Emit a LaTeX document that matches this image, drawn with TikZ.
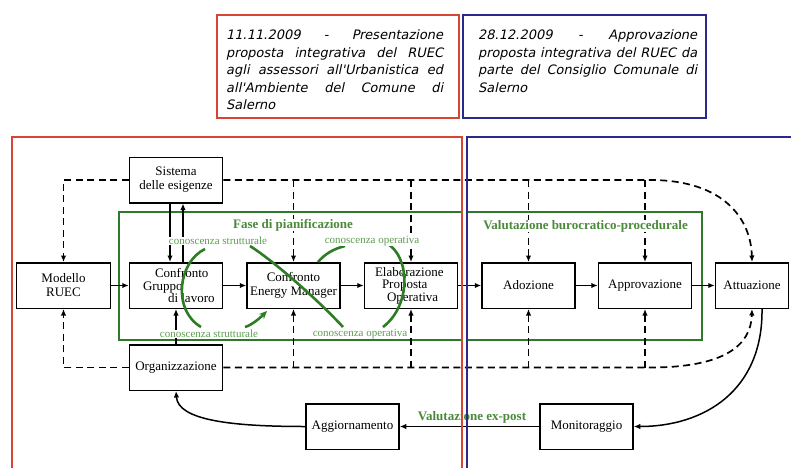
\documentclass[tikz,border=0pt]{standalone}
\usepackage{fontspec}
\setmainfont{Liberation Serif}
\newfontfamily\topfont{DejaVu Sans}[FakeSlant=0.21]
\usetikzlibrary{arrows.meta,decorations.markings}
\definecolor{fred}{HTML}{D74632}
\definecolor{fblue}{HTML}{2A2A8A}
\definecolor{fgreen}{HTML}{2F7A2A}
\definecolor{tgreen}{HTML}{4A8A3A}
\definecolor{kgreen}{HTML}{5E9E50}
\definecolor{cgreen}{HTML}{2E7D25}
\begin{document}
\begin{tikzpicture}[x=1pt,y=-1pt,
  box/.style={draw=black,line width=1.5pt,fill=white,minimum width=93pt,minimum height=45.5pt,inner sep=1pt,font=\fontsize{13}{14}\selectfont,align=center},
  tbox/.style={box,font=\fontsize{13}{12.5}\selectfont,align=left},
  conn/.style={draw=black,line width=1.5pt,-{Latex[length=6.5pt,width=5.5pt]}},
  dconn/.style={draw=black,line width=1.7pt,dash pattern=on 7pt off 4.5pt,-{Latex[length=6.5pt,width=5.5pt]}},
  gframe/.style={draw=fgreen,line width=2pt},
  gcurve/.style={draw=cgreen,line width=2.6pt},
  glabel/.style={text=tgreen,font=\bfseries\fontsize{13}{14}\selectfont,fill=white,inner sep=0.5pt},
  klabel/.style={text=kgreen,font=\fontsize{11}{12}\selectfont,fill=white,inner sep=0.5pt},
  toptext/.style={anchor=north west,inner sep=0pt,align=left,font=\topfont\fontsize{13}{17.5}\selectfont},
  midarrow/.style={postaction={decorate,decoration={markings,mark=at position 0.45 with {\arrow{Stealth[length=8pt,width=7pt]}}}}}
]
\useasboundingbox (0,0) rectangle (791,468);
\fill[white] (0,0) rectangle (791,468);

% green phase frames
\draw[gframe] (119,212) rectangle (462,340);
\draw[gframe] (467,212) rectangle (702,340);

% nodes
\node[box] (sis) at (176,180) {Sistema\\delle esigenze};
\node[box,minimum width=94pt] (mod) at (63.5,285.5) {Modello\\RUEC};
\node[tbox] (cg) at (176,285.5) {\makebox[78pt][l]{\hspace{18pt}Confronto}\\\makebox[78pt][l]{\hspace{6pt}Gruppo}\\\makebox[78pt][l]{\hspace{31pt}di lavoro}};
\node[box] (em) at (293.5,285.5) {Confronto\\Energy Manager};
\node[tbox] (ep) at (411,285.5) {\makebox[72pt][l]{Elaborazione}\\\makebox[72pt][l]{\hspace{7pt}Proposta}\\\makebox[72pt][l]{\hspace{12pt}Operativa}};
\node[box] (ado) at (528.5,285.5) {Adozione};
\node[box] (app) at (645,285.5) {Approvazione};
\node[box,minimum width=73pt] (att) at (752,285.5) {Attuazione};
\node[box] (org) at (176,367.5) {Organizzazione};
\node[box] (agg) at (352.5,426.5) {Aggiornamento};
\node[box] (mon) at (586.5,426.5) {Monitoraggio};

% main solid flow
\draw[conn] (mod) -- (cg);
\draw[conn] (cg) -- (em);
\draw[conn] (em) -- (ep);
\draw[conn] (ep) -- (ado);
\draw[conn] (ado) -- (app);
\draw[conn] (app) -- (att);
\draw[conn] ([xshift=-6pt]sis.south) -- ([xshift=-6pt]cg.north);
\draw[conn] ([xshift=7pt]cg.north) -- ([xshift=7pt]sis.south);
\draw[conn] (org.north) -- (cg.south);

% dashed feedback from Sistema
\coordinate (tb) at (650,180);
\draw[dconn] (sis.west) -| (mod.north);
\draw[dconn] (sis.east) -- (tb) .. controls (725,180) and (751,220) .. (att.north);
\draw[dconn] (em.north |- sis.east) -- (em.north);
\draw[dconn] (ep.north |- sis.east) -- (ep.north);
\draw[dconn] (ado.north |- sis.east) -- (ado.north);
\draw[dconn] (app.north |- sis.east) -- (app.north);

% dashed feedback from Organizzazione
\coordinate (bb) at (650,367.5);
\draw[dconn] (org.west) -| (mod.south);
\draw[dconn] (org.east) -- (bb) .. controls (725,367.5) and (751,345) .. (att.south);
\draw[dconn] (em.south |- org.east) -- (em.south);
\draw[dconn] (ep.south |- org.east) -- (ep.south);
\draw[dconn] (ado.south |- org.east) -- (ado.south);
\draw[dconn] (app.south |- org.east) -- (app.south);

% ex-post loop
\draw[conn] ([xshift=10pt]att.south) .. controls (763,390) and (705,426.5) .. (mon.east);
\draw[conn] (mon) -- (agg);
\draw[conn] (agg.west) .. controls (230,426.5) and (178,420) .. (org.south);
\node[glabel] (vep) at (472,417) {Valutazione ex-post};

% knowledge loop (figure eight)
\draw[gcurve] (205,249) .. controls (178,262) and (172,310) .. (201,327);
\draw[gcurve,midarrow] (386,243) .. controls (410,255) and (412,305) .. (383,327);
\draw[gcurve] (250,246) .. controls (275,262) and (318,300) .. (343,327);
\draw[gcurve] (318,262) .. controls (325,254) and (333,249) .. (345,246);
\draw[gcurve,-{Stealth[length=8pt,width=7pt]}] (245,327) .. controls (252,325) and (260,318) .. (267,311);

% labels
\node[glabel] (fase) at (293,225) {Fase di pianificazione};
\node[glabel] (valb) at (585.5,226) {Valutazione burocratico-procedurale};
\node[klabel] (ks1) at (218,241) {conoscenza strutturale};
\node[klabel] (ko1) at (372,241) {conoscenza operativa};
\node[klabel] (ks2) at (209,334) {conoscenza strutturale};
\node[klabel] (ko2) at (360,334) {conoscenza operativa};

% top date boxes
\draw[fred,line width=2pt] (217,15) rectangle (459,118);
\draw[fblue,line width=2pt] (463,15) rectangle (706,118);
\node[toptext] (d1) at (226,29.5) {\makebox[217pt][s]{11.11.2009 - Presentazione}\\\makebox[217pt][s]{proposta integrativa del RUEC}\\\makebox[217pt][s]{agli assessori all'Urbanistica ed}\\\makebox[217pt][s]{all'Ambiente del Comune di}\\Salerno};
\node[toptext] (d2) at (478,29.5) {\makebox[219pt][s]{28.12.2009 - Approvazione}\\\makebox[219pt][s]{proposta integrativa del RUEC da}\\\makebox[219pt][s]{parte del Consiglio Comunale di}\\Salerno};

% phase frames (red / blue)
\draw[fred,line width=2pt] (12,468) -- (12,137) -- (462,137) -- (462,468);
\draw[fblue,line width=2pt] (467,468) -- (467,137) -- (791,137);
\end{tikzpicture}
\end{document}
